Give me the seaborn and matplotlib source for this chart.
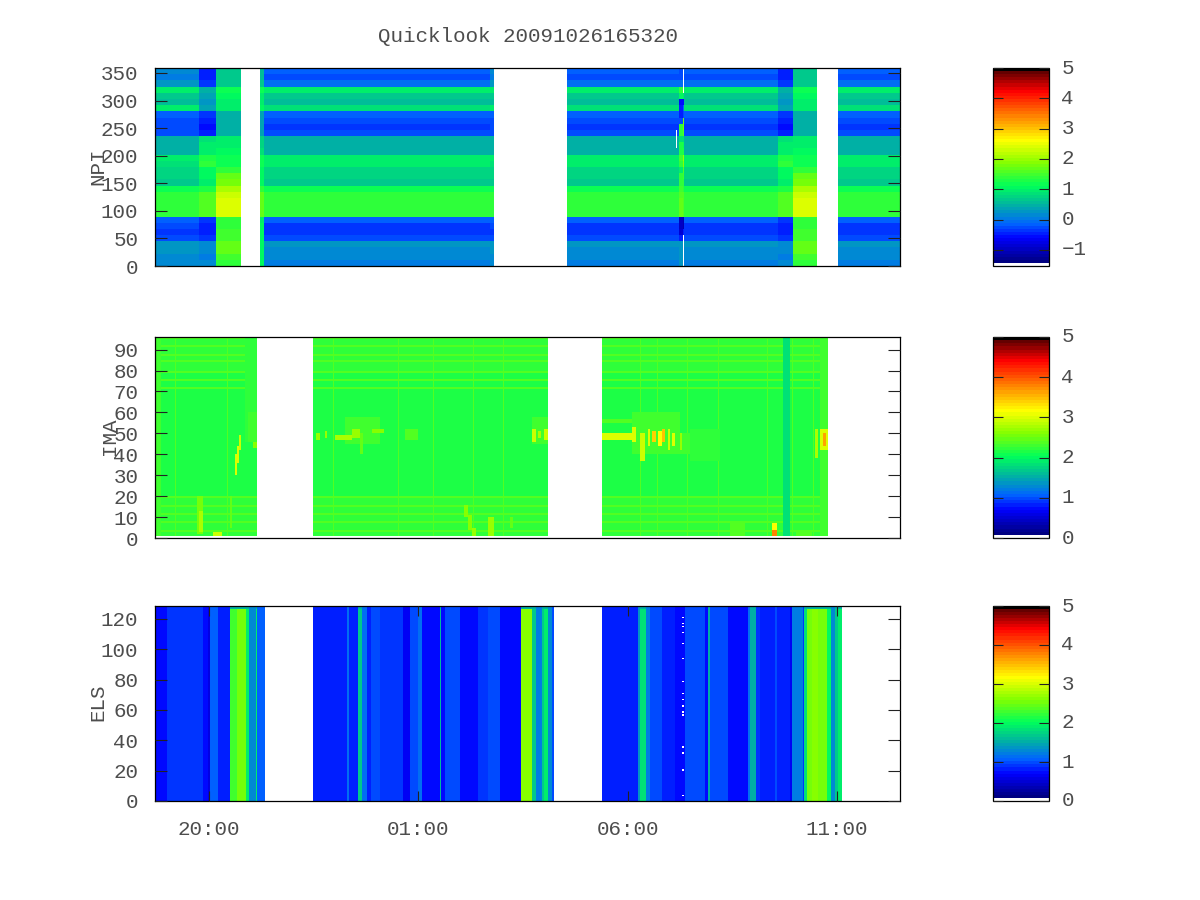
import numpy as np
import matplotlib
matplotlib.use("Agg")
import matplotlib.pyplot as plt
from matplotlib.colors import LinearSegmentedColormap, ListedColormap
import seaborn as sns

# ---------------- shared time axis (hours; values above 24 are next day) ----------------
T_START, T_END = 18.71, 36.50
N_COLS = 745
TIME_TICKS = [20, 25, 30, 35]
TIME_LABELS = ["20:00", "01:00", "06:00", "11:00"]
TITLE = "Quicklook 20091026165320"

# ---------------- NPI: band levels from the top band to the bottom band ----------------
NPI_LEFT = [0.15, 0.05, 0.25, 1.0, 0.65, 0.6, 0.95, -0.2, -0.22, -0.25, -0.25, 0.45, 0.45, 0.5, 0.95, 0.9,
            0.8, 0.75, 0.7, 1.2, 1.35, 1.4, 1.4, 1.4, -0.2, -0.3, -0.35, -0.25, 0.3, 0.25, 0.2, 0.15]
NPI_QUIET = [-0.15, -0.25, 0.0, 1.0, 0.65, 0.6, 0.9, -0.2, -0.27, -0.35, -0.3, 0.45, 0.45, 0.5, 0.95, 0.95,
             0.8, 0.8, 0.65, 1.2, 1.35, 1.4, 1.4, 1.4, -0.2, -0.33, -0.35, -0.27, 0.25, 0.2, 0.15, 0.1]
NPI_DARK = [-0.45, -0.45, -0.4, 0.45, 0.35, 0.3, 0.4, -0.4, -0.5, -0.55, -0.5, 0.9, 0.95, 1.0, 1.3, 1.4,
            1.1, 1.05, 1.0, 1.25, 1.55, 1.6, 1.55, 1.6, -0.35, -0.45, -0.5, -0.4, 0.2, 0.15, 0.1, 0.15]
NPI_BURST = [0.7, 0.7, 0.7, 1.2, 1.1, 1.0, 1.0, 0.5, 0.5, 0.45, 0.45, 1.0, 1.0, 1.1, 1.2, 1.2,
             1.35, 1.7, 1.8, 2.1, 2.3, 2.35, 2.35, 2.35, 1.4, 1.4, 1.45, 1.5, 1.7, 1.65, 1.45, 1.4]
NPI_EDGE = [0.6, 0.6, 0.7, 1.2, 1.0, 1.0, 1.1, 0.4, 0.4, 0.4, 0.4, 0.8, 0.8, 0.9, 1.2, 1.2,
            1.1, 1.1, 1.1, 1.4, 1.7, 1.7, 1.7, 1.7, 1.0, 1.1, 1.1, 1.1, 1.1, 1.1, 1.1, 1.1]
NPI_SPIKE_A = [-0.3, -0.3, 0.0, 1.4, 1.1, -0.6, -0.5, -0.5, -0.3, 1.4, 1.4, 0.9, 1.3, 1.3, 1.5, 1.4,
               1.0, 1.4, 1.4, 1.5, 1.6, 1.7, 1.7, 1.7, -1.0, -1.0, -0.9, -0.5, 0.3, 0.3, 0.3, 0.3]
NPI_SPIKE_B = [np.nan, np.nan, np.nan, np.nan, 1.0, -0.6, -0.2, -0.3, 1.8, 1.8, 1.6, 0.9, 1.2, 1.3, 2.0, 1.9,
               1.6, 1.5, 1.4, 1.4, 1.6, 1.6, 1.6, 1.6, -1.1, -1.1, -0.5, np.nan, np.nan, np.nan, np.nan, np.nan]
NPI_PROFILES = [NPI_LEFT, NPI_DARK, NPI_BURST, None, NPI_EDGE, NPI_QUIET, NPI_SPIKE_A, NPI_SPIKE_B]
NPI_T0 = [18.71, 19.76, 20.17, 20.77, 21.22, 21.32, 26.71, 26.81, 28.55, 31.20, 31.23, 31.32, 31.35, 33.59, 33.95, 34.52, 35.02]
NPI_T1 = [19.76, 20.17, 20.77, 21.22, 21.32, 26.71, 26.81, 28.55, 31.20, 31.23, 31.32, 31.35, 33.59, 33.95, 34.52, 35.02, 36.50]
NPI_STATE = [0, 1, 2, 3, 4, 5, 0, 3, 5, 5, 6, 7, 5, 1, 2, 3, 5]
NPI_GAP_T = [31.16, 31.16]
NPI_GAP_ROW = [22, 21]

# ---------------- IMA ----------------
IMA_T0 = [18.73, 22.48, 29.38]
IMA_T1 = [21.15, 28.09, 34.78]
IMA_BAND_TOP = [20, 80, 96]
IMA_BAND_LEVEL = [2.2, 2.12, 2.2]
IMA_ROW_LINES = [3, 7, 11, 15, 19, 71, 75, 79, 84, 87, 91, 95]
IMA_COL_LINES = [19.19, 20.43, 22.96, 24.52, 25.35, 26.31, 27.02, 30.30, 30.70, 31.42, 32.16, 33.33, 33.92, 34.43]
IMA_LINE_LEVEL = 2.38
# t0, t1, y0, y1, level, grouped by feature, same order in every list
IMA_EV_T0 = [33.71, 20.86, 34.59, 18.73,
             19.72, 19.76, 20.10, 20.49, 20.62, 20.67, 20.72, 20.93, 21.05,
             23.25, 22.56, 22.77, 23.01, 23.42, 23.61, 23.90, 24.68,
             27.72, 27.72, 27.86, 28.00, 26.09, 26.19, 26.28, 26.67, 27.19,
             29.39, 29.39, 30.10, 31.13, 31.49,
             30.10, 30.30, 30.49, 30.58, 30.72, 30.82, 30.96, 31.06, 31.25,
             32.44, 33.45, 33.45, 34.02, 34.47, 34.59, 34.67]
IMA_EV_T1 = [33.88, 21.15, 34.78, 18.85,
             19.86, 19.86, 20.31, 20.56, 20.67, 20.72, 20.77, 21.15, 21.15,
             24.09, 22.65, 22.82, 23.42, 23.61, 23.68, 24.18, 24.99,
             28.10, 27.80, 27.93, 28.10, 26.19, 26.28, 26.38, 26.81, 27.26,
             30.10, 30.10, 31.25, 31.49, 32.20,
             30.20, 30.41, 30.53, 30.67, 30.82, 30.89, 31.01, 31.13, 31.30,
             32.80, 33.57, 33.57, 34.40, 34.55, 34.78, 34.74]
IMA_EV_Y0 = [1, 46, 1, 1,
             2, 3, 1, 5, 30, 36, 42, 46, 43,
             45, 47, 48, 47, 48, 40, 50, 47,
             45, 46, 48, 47, 10, 4, 1, 1, 5,
             47, 55, 40, 40, 37,
             46, 37, 44, 46, 44, 46, 42, 44, 42,
             1, 1, 1, 1, 38, 42, 44]
IMA_EV_Y1 = [96, 96, 96, 96,
             20, 13, 3, 20, 40, 44, 49, 60, 46,
             58, 50, 51, 49, 52, 50, 52, 52,
             58, 52, 51, 52, 16, 11, 5, 10, 10,
             50, 57, 60, 50, 52,
             53, 50, 52, 51, 51, 52, 52, 50, 50,
             8, 7, 4, 3, 52, 52, 50]
IMA_EV_V = [1.8, 2.25, 2.3, 2.28,
            2.55, 2.8, 2.9, 2.45, 3.0, 3.0, 2.9, 2.28, 2.6,
            2.27, 2.7, 2.7, 2.8, 2.7, 2.45, 2.6, 2.35,
            2.28, 2.9, 2.8, 2.9, 2.6, 2.6, 2.7, 2.7, 2.45,
            3.0, 2.35, 2.3, 2.3, 2.25,
            3.0, 2.95, 3.0, 3.4, 3.2, 3.5, 2.9, 3.0, 2.7,
            2.4, 3.2, 3.8, 2.4, 2.8, 3.0, 3.6]

# ---------------- ELS: level per time stretch, all energies (nan = no data) ----------------
ELS_T0 = [18.71, 19.00, 19.86, 19.98, 20.03, 20.22, 20.50, 20.67, 20.89, 20.96, 21.12, 21.15, 21.34,
          22.49, 23.30, 23.35, 23.56, 23.66, 23.78, 23.87, 24.09, 24.64, 24.80, 24.99, 25.09, 25.52, 25.54, 25.64,
          26.00, 26.43, 26.67, 26.95, 27.45, 27.72, 27.81, 27.96, 28.00, 28.10, 28.19, 28.24,
          29.39, 30.25, 30.30, 30.44, 30.53, 30.82, 31.13, 31.37, 31.85, 31.92, 31.97, 32.11, 32.40, 32.87, 32.92,
          33.06, 33.16, 33.52, 33.57, 33.88, 33.92, 34.19, 34.21, 34.28, 34.40, 34.55, 34.76, 34.86, 34.95, 35.02]
ELS_T1 = ELS_T0[1:] + [35.12]
ELS_LEVEL = [0.78, 0.9, 0.78, 0.6, 1.05, 0.8, 2.3, 2.55, 1.9, 1.3, 1.9, 1.05, np.nan,
             0.8, 1.1, 0.8, 1.7, 1.15, 0.85, 0.95, 0.9, 0.68, 1.0, 1.1, 0.78, 1.6, 0.75, 0.95,
             0.75, 0.9, 1.0, 0.78, 2.6, 1.7, 1.2, 1.7, 1.9, 1.3, 1.0, np.nan,
             0.8, 1.4, 1.85, 1.2, 1.0, 0.8, 0.75, 0.95, 0.75, 1.55, 1.0, 0.95, 0.75, 1.1, 1.5,
             0.9, 0.8, 1.0, 0.8, 0.65, 1.2, 0.9, 1.8, 2.5, 2.6, 2.5, 2.0, 1.3, 1.7, 1.9]
ELS_TOP_ROW = 126
ELS_TOP_LEVEL = 1.5
ELS_GAP_T = 31.30
ELS_GAP_ROWS = [120, 116, 114, 110, 103, 93, 78, 70, 66, 62, 58, 56, 35, 31, 20, 3]

# ---------------- colour scale, bottom to top ----------------
CMAP_POS = [0.0, 0.125, 0.2, 0.3, 0.40, 0.52, 0.64, 0.735, 0.83, 0.90, 0.98, 1.0]
CMAP_RGB = [(0, 0, 130), (0, 0, 255), (0, 100, 255), (0, 180, 160), (0, 255, 90), (130, 255, 0),
            (255, 255, 0), (255, 165, 0), (255, 70, 0), (255, 0, 0), (130, 0, 0), (100, 0, 0)]

sns.set_style("white")
plt.rcParams["font.family"] = ["Liberation Mono", "DejaVu Sans Mono"]
plt.rcParams["font.size"] = 15
TEXT = "#4d4d4d"

base = LinearSegmentedColormap.from_list("q", [(p, tuple(c / 255 for c in rgb)) for p, rgb in zip(CMAP_POS, CMAP_RGB)], N=62)
cols = np.vstack([[1, 1, 1, 1], base(np.linspace(0, 1, 62)), [0, 0, 0, 1]])
cmap = ListedColormap(cols)
cmap.set_bad((1, 1, 1, 0))

dt = (T_END - T_START) / N_COLS


def col(t):
    return int(round((t - T_START) / dt))


def box(x0, y0, x1, y1):
    return fig.add_axes([x0 / 1200, 1 - y1 / 900, (x1 - x0) / 1200, (y1 - y0) / 900])


fig = plt.figure(figsize=(12, 9), dpi=100, facecolor="white")

# NPI matrix
npi = np.full((32, N_COLS), np.nan)
for t0, t1, s in zip(NPI_T0, NPI_T1, NPI_STATE):
    if NPI_PROFILES[s] is not None:
        npi[:, col(t0):col(t1)] = np.array(NPI_PROFILES[s], float)[::-1][:, None]
for t, r in zip(NPI_GAP_T, NPI_GAP_ROW):
    npi[r - 2:r, col(t):col(t) + 1] = np.nan

# IMA matrix
ima = np.full((96, N_COLS), np.nan)
for t0, t1 in zip(IMA_T0, IMA_T1):
    lo = 1
    for top, lev in zip(IMA_BAND_TOP, IMA_BAND_LEVEL):
        ima[lo:top, col(t0):col(t1)] = lev
        lo = top
mask = ~np.isnan(ima)
for r in IMA_ROW_LINES:
    ima[r][mask[r]] = IMA_LINE_LEVEL
for t in IMA_COL_LINES:
    ima[:, col(t)][mask[:, col(t)]] = IMA_LINE_LEVEL
for t0, t1, y0, y1, v in zip(IMA_EV_T0, IMA_EV_T1, IMA_EV_Y0, IMA_EV_Y1, IMA_EV_V):
    ima[y0:y1, col(t0):col(t1)] = v

# ELS matrix
els = np.full((128, N_COLS), np.nan)
for t0, t1, v in zip(ELS_T0, ELS_T1, ELS_LEVEL):
    els[:, col(t0):col(t1)] = v
    if not np.isnan(v):
        els[ELS_TOP_ROW:, col(t0):col(t1)] = min(v, ELS_TOP_LEVEL)
for r in ELS_GAP_ROWS:
    els[r:r + 1, col(ELS_GAP_T):col(ELS_GAP_T) + 2] = np.nan

panels = [
    ("NPI", npi, (68, 266), 359, list(range(0, 351, 50)), -1.53, [-1, 0, 1, 2, 3, 4, 5], 98),
    ("IMA", ima, (337, 538), 96, list(range(0, 91, 10)), 0, [0, 1, 2, 3, 4, 5], 110),
    ("ELS", els, (606, 801), 128.5, list(range(0, 121, 20)), 0, [0, 1, 2, 3, 4, 5], 98),
]
for name, mat, (ytop, ybot), ymax, yticks, vmin, cticks, lab_x in panels:
    ax = box(155, ytop, 900, ybot)
    cax = box(993, ytop, 1049, ybot)
    sns.heatmap(mat, ax=ax, cbar_ax=cax, cmap=cmap, vmin=vmin, vmax=5, xticklabels=False, yticklabels=False,
                cbar_kws={"ticks": cticks})
    ax.set_axisbelow(False)
    ax.set_ylim(0, mat.shape[0])
    ax.set_yticks([v / ymax * mat.shape[0] for v in yticks])
    ax.set_yticklabels([str(v) for v in yticks], color=TEXT)
    ax.tick_params(axis="y", direction="in", left=True, right=True, length=8.5, width=0.8, pad=12, color="#222222")
    if name == "ELS":
        ax.set_xticks([(t - T_START) / dt for t in TIME_TICKS])
        ax.set_xticklabels(TIME_LABELS, color=TEXT, rotation=0)
        ax.tick_params(axis="x", direction="in", top=True, bottom=True, length=7, width=0.8, pad=14, color="#222222")
    else:
        ax.set_xticks([])
    for sp in ax.spines.values():
        sp.set_visible(True)
        sp.set_color("black")
        sp.set_linewidth(0.9)
    fig.text(lab_x / 1200, 1 - ((ytop + ybot) / 2 - 1) / 900, name, rotation=90,
             ha="center", va="center", color=TEXT)
    cax.set_axisbelow(False)
    cax.tick_params(axis="y", direction="in", left=True, right=True, length=7, width=0.8, pad=9, color="#222222",
                    labelcolor=TEXT)
    for lab in cax.get_yticklabels():
        lab.set_verticalalignment("center")
    cb = ax.collections[0].colorbar
    cb.outline.set_visible(True)
    cb.outline.set_edgecolor("black")
    cb.outline.set_linewidth(0.9)

fig.text(528 / 1200, 1 - 37 / 900, TITLE, ha="center", va="center", color=TEXT)
fig.savefig("out.png", dpi=100, facecolor="white")
